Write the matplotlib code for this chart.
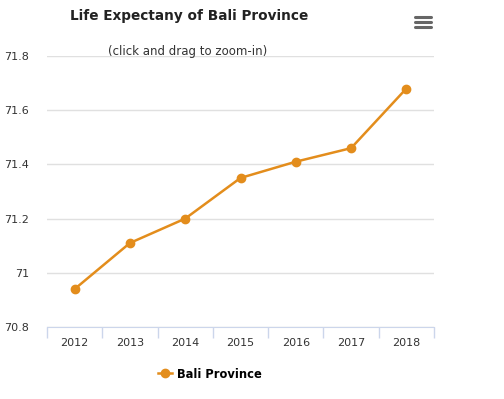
import matplotlib.pyplot as plt
from matplotlib.lines import Line2D

years = ["2012", "2013", "2014", "2015", "2016", "2017", "2018"]
life_exp = [70.94, 71.11, 71.20, 71.35, 71.41, 71.46, 71.68]
y_ticks = [70.8, 71.0, 71.2, 71.4, 71.6, 71.8]
y_labels = ["70.8", "71", "71.2", "71.4", "71.6", "71.8"]

orange = "#e38d1c"
plt.rcParams['font.family'] = ['DejaVu Sans']

fig = plt.figure(figsize=(5.04, 3.99), dpi=100)
ax = fig.add_axes([47/504, 1 - 327/399, (434 - 47)/504, (327 - 56)/399])

x = list(range(len(years)))
ax.plot(x, life_exp, color=orange, lw=1.8, marker="o", ms=6, zorder=3,
        label="Bali Province", clip_on=False)

ax.set_xlim(-0.5, len(years) - 0.5)
ax.set_ylim(70.8, 71.8)
ax.set_yticks(y_ticks)
ax.set_yticklabels(y_labels)
ax.set_xticks(x)
ax.set_xticklabels(years)
ax.set_xticks([i - 0.5 for i in range(len(years) + 1)], minor=True)

ax.grid(axis="y", color="#e0e0e0", lw=1)
ax.set_axisbelow(True)
for s in ["top", "right", "left"]:
    ax.spines[s].set_visible(False)
ax.spines["bottom"].set_color("#ccd6eb")
ax.tick_params(axis="y", length=0, pad=13, labelsize=8, labelcolor="#333333")
ax.tick_params(axis="x", which="major", length=0, pad=8, labelsize=8, labelcolor="#333333")
ax.tick_params(axis="x", which="minor", length=8, color="#ccd6eb", width=1)

fig.text(189/504, 1 - 16/399, "Life Expectany of Bali Province", ha="center", va="center",
         fontsize=9.8, fontweight="bold", color="#222222")
fig.text(188/504, 1 - 51/399, "(click and drag to zoom-in)", ha="center", va="center",
         fontsize=8.5, color="#333333")

# menu icon
for yy in [17, 22, 27]:
    fig.add_artist(Line2D([415/504, 431/504], [1 - yy/399, 1 - yy/399], color="#666666",
                          lw=2.2, solid_capstyle="round"))

leg = fig.legend(loc="center", bbox_to_anchor=(210/504, 1 - 374/399), frameon=False,
                 prop={"weight": "bold", "size": 8.3}, handlelength=1.2, handletextpad=0.5)

fig.savefig("out.png", dpi=100)
